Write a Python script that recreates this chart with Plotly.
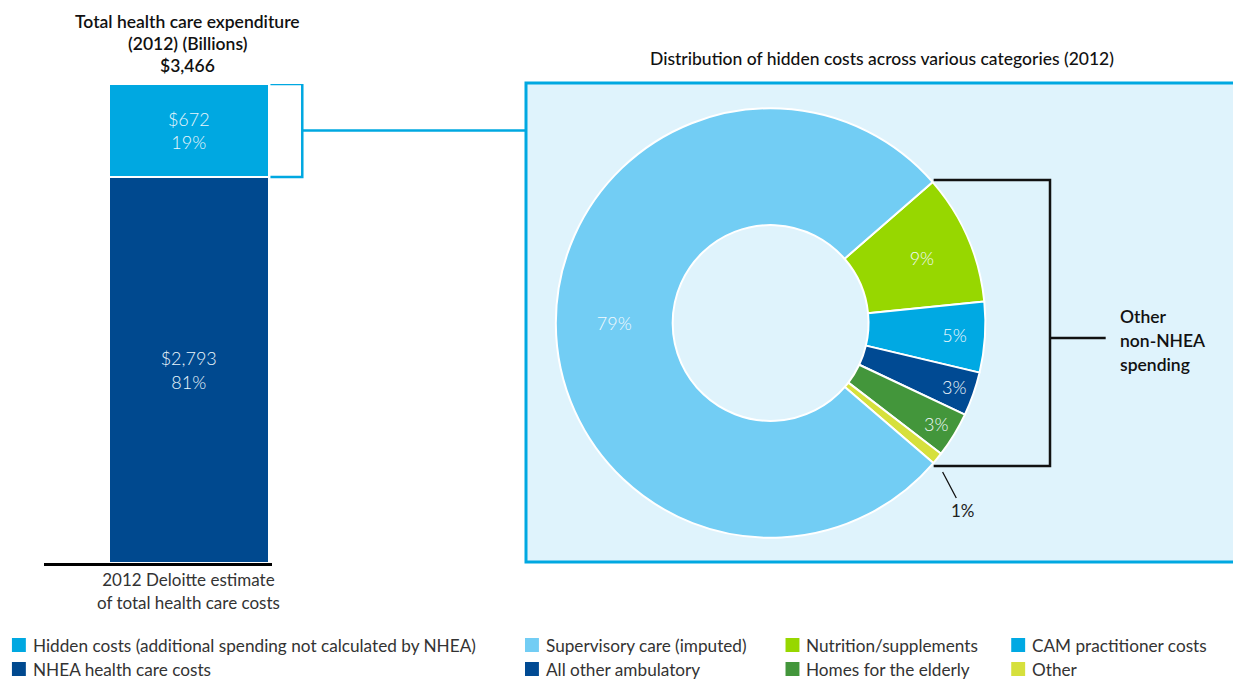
import plotly.graph_objects as go

W, H = 1233, 679

# ---------------- data ----------------
bar_category = "2012 Deloitte estimate<br>of total health care costs"
bar_series = ["NHEA health care costs",
              "Hidden costs (additional spending not calculated by NHEA)"]
bar_values = [2793, 672]
bar_shares = ["81%", "19%"]
bar_colors = ["#00498F", "#00A8E1"]
total_value = 3466

pie_labels = ["Nutrition/supplements", "CAM practitioner costs", "All other ambulatory",
              "Homes for the elderly", "Other", "Supervisory care (imputed)"]
pie_values = [9.8, 5.3, 3.3, 3.4, 0.9, 77.3]
pie_text = ["9%", "5%", "3%", "3%", "", "79%"]
pie_colors = ["#97D700", "#00A9E3", "#004A93", "#43963B", "#D6E03C", "#72CDF4"]

FONT = "Lato"


def px(x):
    return x / W


def py(y):
    return 1 - y / H


fig = go.Figure()

# stacked bar (bottom first)
for name, val, share, col in zip(bar_series, bar_values, bar_shares, bar_colors):
    fig.add_trace(go.Bar(
        x=[bar_category], y=[val], name=name, width=1,
        marker=dict(color=col, line=dict(color="white", width=2)),
        text=[f"${val:,}<br>{share}"], textposition="inside",
        insidetextanchor="middle",
        textfont=dict(family=FONT, size=18, color="#EAF6FC", weight=300),
        showlegend=False, hoverinfo="skip",
    ))

# donut
fig.add_trace(go.Pie(
    labels=pie_labels, values=pie_values, text=pie_text, textinfo="text",
    sort=False, direction="clockwise", rotation=49, hole=0.456,
    marker=dict(colors=pie_colors, line=dict(color="white", width=2)),
    textposition="inside", insidetextorientation="horizontal",
    textfont=dict(family=FONT, size=18, color="#F2FAFD", weight=300),
    domain=dict(x=[px(775 - 216), px(775 + 216)], y=[py(323 + 216), py(323 - 216)]),
    showlegend=False, hoverinfo="skip",
))

shapes = []
# light blue panel
shapes.append(dict(type="rect", xref="paper", yref="paper",
                   x0=px(529), x1=px(1250), y0=py(562), y1=py(83),
                   fillcolor="#DFF3FC", line=dict(color="#00A8E1", width=3), layer="below"))
# bracket around hidden-cost segment
blue = "#00A8E1"
seg_lo, seg_hi = bar_values[0], total_value
shapes.append(dict(type="path", xref="paper", yref="y",
                   path=f"M {px(272)},{seg_hi} L {px(304)},{seg_hi} L {px(304)},{seg_lo} L {px(272)},{seg_lo}",
                   line=dict(color=blue, width=2.5)))
shapes.append(dict(type="line", xref="paper", yref="y",
                   x0=px(304), x1=px(529), y0=(seg_lo + seg_hi) / 2, y1=(seg_lo + seg_hi) / 2,
                   line=dict(color=blue, width=2.5)))
# black bracket for other non-NHEA spending
shapes.append(dict(type="path", xref="paper", yref="paper",
                   path=f"M {px(939)},{py(180)} L {px(1056)},{py(180)} L {px(1056)},{py(466)} L {px(939)},{py(466)}",
                   line=dict(color="#111111", width=2.5)))
shapes.append(dict(type="line", xref="paper", yref="paper",
                   x0=px(1056), x1=px(1112), y0=py(338), y1=py(338),
                   line=dict(color="#111111", width=2.5)))

annotations = []
# left title
for i, line in enumerate(["Total health care expenditure", "(2012) (Billions)", f"${total_value:,}"]):
    annotations.append(dict(text=line, x=px(189), y=py(21 + i * 22.5), xref="paper", yref="paper",
                            showarrow=False, xanchor="center", yanchor="middle",
                            font=dict(family=FONT, size=17.5, color="#111111", weight=600)))
# right title
annotations.append(dict(text="Distribution of hidden costs across various categories (2012)",
                        x=px(887), y=py(58), xref="paper", yref="paper", showarrow=False,
                        xanchor="center", yanchor="middle",
                        font=dict(family=FONT, size=17.5, color="#111111", weight=500)))
# other non-NHEA label
for i, line in enumerate(["Other", "non-NHEA", "spending"]):
    annotations.append(dict(text=line, x=px(1124), y=py(316 + i * 24), xref="paper", yref="paper",
                            showarrow=False, xanchor="left", yanchor="middle",
                            font=dict(family=FONT, size=17.5, color="#111111", weight=600)))
# 1% callout
annotations.append(dict(text="1%", x=px(948), y=py(472), xref="paper", yref="paper",
                        showarrow=True, arrowhead=0, arrowwidth=1.3, arrowcolor="#111111",
                        ax=20, ay=38, standoff=0,
                        font=dict(family=FONT, size=17, color="#222222")))

# legend
legend_items = [
    (bar_series[1], bar_colors[1], 12, 645),
    (bar_series[0], bar_colors[0], 12, 669),
    (pie_labels[5], pie_colors[5], 528, 645),
    (pie_labels[2], pie_colors[2], 528, 669),
    (pie_labels[0], pie_colors[0], 790, 645),
    (pie_labels[3], pie_colors[3], 790, 669),
    (pie_labels[1], pie_colors[1], 1017, 645),
    (pie_labels[4], pie_colors[4], 1017, 669),
]
for label, col, x, y in legend_items:
    shapes.append(dict(type="rect", xref="paper", yref="paper",
                       x0=px(x), x1=px(x + 14), y0=py(y + 7), y1=py(y - 7),
                       fillcolor=col, line=dict(width=0)))
    annotations.append(dict(text=label, x=px(x + 19), y=py(y), xref="paper", yref="paper",
                            showarrow=False, xanchor="left", yanchor="middle",
                            font=dict(family=FONT, size=17.2, color="#333333")))

fig.update_layout(
    width=W, height=H, margin=dict(l=0, r=0, t=0, b=0),
    paper_bgcolor="white", plot_bgcolor="rgba(0,0,0,0)",
    barmode="stack", bargap=0,
    xaxis=dict(domain=[px(44), px(274)], range=[-0.9037, 0.5248], showgrid=False,
               showline=True, linecolor="#000000", linewidth=3, ticks="",
               tickfont=dict(family=FONT, size=17, color="#333333"), fixedrange=True),
    yaxis=dict(domain=[py(563), py(84)], range=[0, total_value], visible=False,
               showgrid=False, zeroline=False, fixedrange=True),
    uniformtext=dict(minsize=17, mode="show"),
    shapes=shapes, annotations=annotations,
    font=dict(family=FONT),
)

fig.write_html("out.html", config={"displayModeBar": False})

# remove the browser's default page margin so the figure sits at the top-left corner
with open("out.html", "r", encoding="utf-8") as f:
    html = f.read()
html = html.replace("<head>", "<head><style>html,body{margin:0;padding:0;overflow:hidden;}</style>", 1)
with open("out.html", "w", encoding="utf-8") as f:
    f.write(html)
